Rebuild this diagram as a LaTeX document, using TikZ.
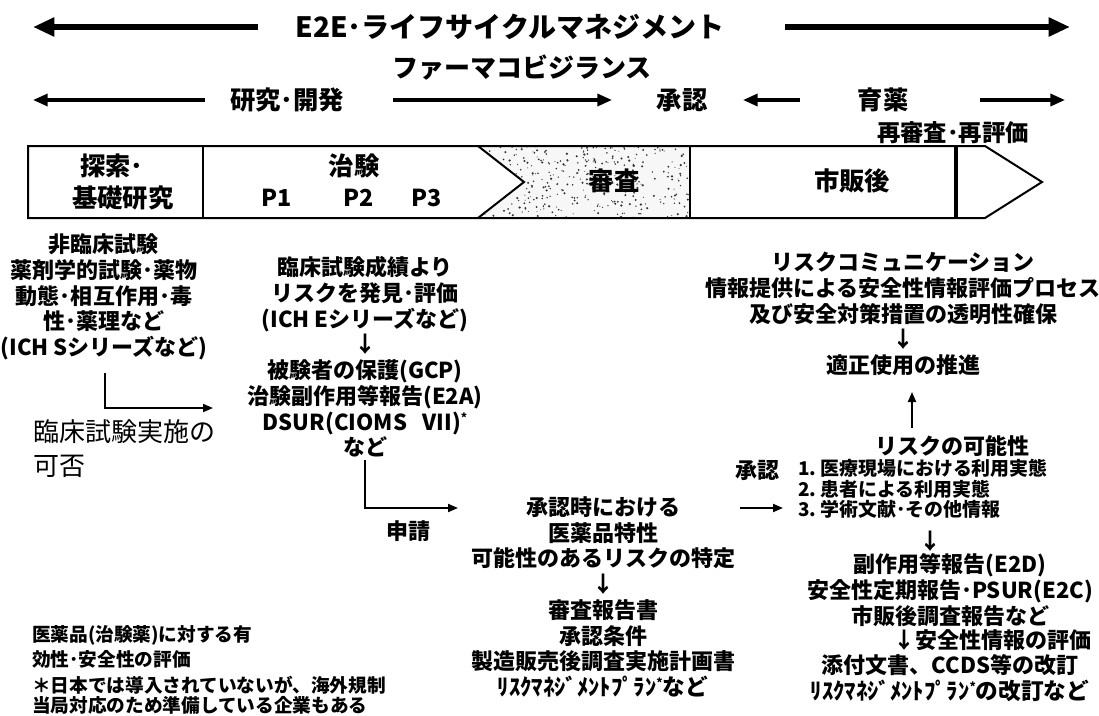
\documentclass[tikz,border=0pt]{standalone}
\usepackage{fontspec}
\setmainfont{Noto Sans CJK JP}
\usetikzlibrary{arrows.meta}
\newcommand{\fsz}[2]{\fontsize{#1}{#2}\selectfont}
\newcommand{\sstar}{\raisebox{0.35em}{\fsz{9}{9}*}}
\begin{document}
\begin{tikzpicture}[x=0.75pt,y=-0.75pt,
  every node/.style={inner sep=0pt,outer sep=0pt},
  bt/.style={font=\bfseries\fsz{16.5}{19.3}, align=center},
  title/.style={font=\bfseries\fsz{21}{21}},
  row/.style={font=\bfseries\fsz{19}{19}},
  bar/.style={font=\bfseries\fsz{19}{24}},
  barp/.style={font=\bfseries\fsz{17.5}{18}},
  lst/.style={font=\bfseries\fsz{14.2}{15.4}, align=left},
  note/.style={font=\bfseries\fsz{14}{18.75}, align=left},
  bigarr/.style={line width=4.5pt,-{Triangle[length=16pt,width=13.5pt]}},
  midarr/.style={line width=2.5pt,-{Triangle[length=11pt,width=9pt]}},
  thinarr/.style={line width=1.4pt,-{Triangle[length=7.5pt,width=6pt]}},
  barline/.style={line width=1.5pt}
]
\useasboundingbox (0,0) rectangle (1099,715);

% ---------- top rows ----------
\node[title] (t1) at (510,27) {E2E･ライフサイクルマネジメント};
\node[font=\bfseries\fsz{19.5}{20}] (t2) at (522,68) {ファーマコビジランス};
\coordinate (a1s) at (258,27); \coordinate (a1e) at (33,27);
\coordinate (a2s) at (785,27); \coordinate (a2e) at (1070,27);
\draw[bigarr] (a1s) -- (a1e);
\draw[bigarr] (a2s) -- (a2e);

\node[row] (r1) at (287,100) {研究･開発};
\node[row] (r2) at (682,100) {承認};
\node[row] (r3) at (883,100) {育薬};
\node[font=\bfseries\fsz{17.5}{18}] (r4) at (953,133) {再審査･再評価};
\coordinate (b1s) at (205,100); \coordinate (b1e) at (33,100);
\coordinate (b2s) at (393,100); \coordinate (b2e) at (612,100);
\coordinate (b3s) at (800,100); \coordinate (b3e) at (743,100);
\coordinate (b4s) at (980,100); \coordinate (b4e) at (1065,100);
\draw[midarr] (b1s) -- (b1e);
\draw[midarr] (b2s) -- (b2e);
\draw[midarr] (b3s) -- (b3e);
\draw[midarr] (b4s) -- (b4e);

% ---------- timeline bar ----------
\begin{scope}
  \clip (478,146) -- (690,146) -- (690,218) -- (478,218) -- (524,182) -- cycle;
  \fill[gray!6] (470,140) rectangle (700,225);
  \pgfmathsetseed{11}
  \foreach \i in {1,...,380}{
    \pgfmathsetmacro{\rx}{478+212*rnd}
    \pgfmathsetmacro{\ry}{146+72*rnd}
    \pgfmathsetmacro{\rr}{0.45+0.8*rnd}
    \fill[black!80] (\rx,\ry) circle (\rr);
  }
\end{scope}
\draw[barline] (28,146) -- (985,146) -- (1042,182) -- (985,218) -- (28,218) -- cycle;
\draw[barline] (203,146) -- (203,218);
\draw[barline] (478,146) -- (524,182) -- (478,218);
\draw[barline] (690,146) -- (690,218);
\draw[line width=2.4pt] (956,146) -- (956,218);

\node[bar,anchor=west] (s1) at (80,166) {探索･};
\node[bar,anchor=west] (s2) at (72,198) {基礎研究};
\node[bar] (s3) at (354,166) {治験};
\node[barp] (p1) at (277,198) {P1};
\node[barp] (p2) at (359,198) {P2};
\node[barp] (p3) at (427,198) {P3};
\node[font=\bfseries\fsz{19}{20}] (s4) at (614,181) {審査};
\node[font=\bfseries\fsz{19}{20}] (s5) at (852,181) {市販後};

% ---------- left column ----------
\node[bt] (c1) at (104,297) {非臨床試験\\薬剤学的試験･薬物\\動態･相互作用･毒\\性･薬理など\\(ICH Sシリーズなど)};
\coordinate (e1s) at (105,373);
\coordinate (e1e) at (213,408);
\draw[thinarr] (e1s) |- (e1e);
\node[font=\fsz{19.5}{25.5}, align=left, anchor=west] (c2) at (33,449) {臨床試験実施の\\可否};

% ---------- second column ----------
\node[bt] (d1) at (365,357) {臨床試験成績より\\リスクを発見･評価\\(ICH Eシリーズなど)\\↓\\被験者の保護(GCP)\\治験副作用等報告(E2A)\\DSUR(CIOMS\hspace{0.7em}VII)\sstar\\など};
\coordinate (e2s) at (365,460);
\coordinate (e2e) at (458,508);
\draw[thinarr] (e2s) |- (e2e);
\node[bt] (d2) at (408,531) {申請};

% ---------- third column ----------
\node[bt] (f1) at (603,597) {承認時における\\医薬品特性\\可能性のあるリスクの特定\\↓\\審査報告書\\承認条件\\製造販売後調査実施計画書\\{\fsz{17}{19.3}ﾘｽｸﾏﾈｼﾞﾒﾝﾄﾌﾟﾗﾝ\sstar など}};

% ---------- right column ----------
\node[bt] (g1) at (903,314) {リスクコミュニケーション\\情報提供による安全性情報評価プロセス\\及び安全対策措置の透明性確保\\↓\\適正使用の推進};
\coordinate (u1s) at (912,428);
\coordinate (u1e) at (912,392);
\draw[thinarr] (u1s) -- (u1e);
\node[bt] (g2) at (952,446) {リスクの可能性};
\node[bt] (g3) at (757,470) {承認};
\coordinate (v1s) at (740,508);
\coordinate (v1e) at (783,508);
\draw[thinarr] (v1s) -- (v1e);
\node[lst,anchor=west] (g4) at (798,489) {1.\ 医療現場における利用実態\\2.\ 患者による利用実態\\3.\ 学術文献･その他情報};
\node[bt] (g5) at (930,541) {↓};
\node[bt] (g6) at (950,590) {副作用等報告(E2D)\\安全性定期報告･PSUR(E2C)\\市販後調査報告など};
\node[bt] (g7) at (992,640) {↓安全性情報の評価};
\node[bt] (g8) at (950,678) {添付文書、CCDS等の改訂\\{\fsz{17}{19.3}ﾘｽｸﾏﾈｼﾞﾒﾝﾄﾌﾟﾗﾝ\sstar の改訂など}};

% ---------- notes ----------
\node[note,anchor=west] (n1) at (32,647) {医薬品(治験薬)に対する有\\効性･安全性の評価};
\node[font=\bfseries\fsz{14}{15.2}, align=left, anchor=west] (n2) at (32,695) {＊日本では導入されていないが、海外規制\\当局対応のため準備している企業もある};
\end{tikzpicture}
\end{document}
